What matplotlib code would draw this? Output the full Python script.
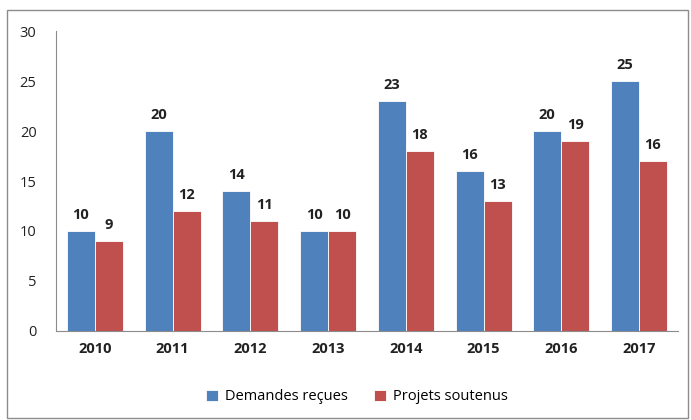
import matplotlib.pyplot as plt
import numpy as np
from matplotlib.patches import Rectangle

years = ["2010", "2011", "2012", "2013", "2014", "2015", "2016", "2017"]
demandes = [10, 20, 14, 10, 23, 16, 20, 25]
projets = [9, 12, 11, 10, 18, 13, 19, 17]
demandes_labels = ["10", "20", "14", "10", "23", "16", "20", "25"]
projets_labels = ["9", "12", "11", "10", "18", "13", "19", "16"]

plt.rcParams['font.family'] = ['Open Sans', 'DejaVu Sans']

fig = plt.figure(figsize=(6.91, 4.2), dpi=100)
ax = fig.add_axes([0.081, 0.212, 0.9, 0.714])

# outer frame
fig.patches.append(Rectangle((0.01, 0.004), 0.985, 0.972, transform=fig.transFigure,
                             fill=False, edgecolor='#8c8c8c', linewidth=1))

x = np.arange(len(years))
w = 0.36
b1 = ax.bar(x - w / 2, demandes, w, color='#4F81BD', edgecolor='white', linewidth=0.6,
            label='Demandes reçues')
b2 = ax.bar(x + w / 2, projets, w, color='#C0504D', edgecolor='white', linewidth=0.6,
            label='Projets soutenus')

for rect, lab in zip(b1, demandes_labels):
    ax.text(rect.get_x() + rect.get_width() / 2, rect.get_height() + 0.9, lab,
            ha='center', va='bottom', fontsize=10.5, fontweight='bold', color='#222222')
for rect, lab in zip(b2, projets_labels):
    h = max(int(lab), rect.get_height())
    ax.text(rect.get_x() + rect.get_width() / 2, h + 0.9, lab,
            ha='center', va='bottom', fontsize=10.5, fontweight='bold', color='#222222')

ax.set_xlim(-0.5, len(years) - 0.5)
ax.set_ylim(0, 30)
ax.set_yticks(range(0, 31, 5))
ax.set_xticks(x)
ax.set_xticklabels(years, fontweight='bold', fontsize=10.5, color='#222222')
ax.tick_params(axis='y', length=0, pad=14, labelsize=10.5, labelcolor='#222222')
ax.tick_params(axis='x', length=0, pad=8)

for s in ['top', 'right']:
    ax.spines[s].set_visible(False)
for s in ['left', 'bottom']:
    ax.spines[s].set_color('#8c8c8c')

fig.legend(handles=[b1, b2], loc='center', bbox_to_anchor=(0.517, 0.055), ncol=2,
           frameon=False, fontsize=10.5, handlelength=0.8, handleheight=0.8,
           columnspacing=1.8, handletextpad=0.5)

fig.savefig('out.png', dpi=100)
